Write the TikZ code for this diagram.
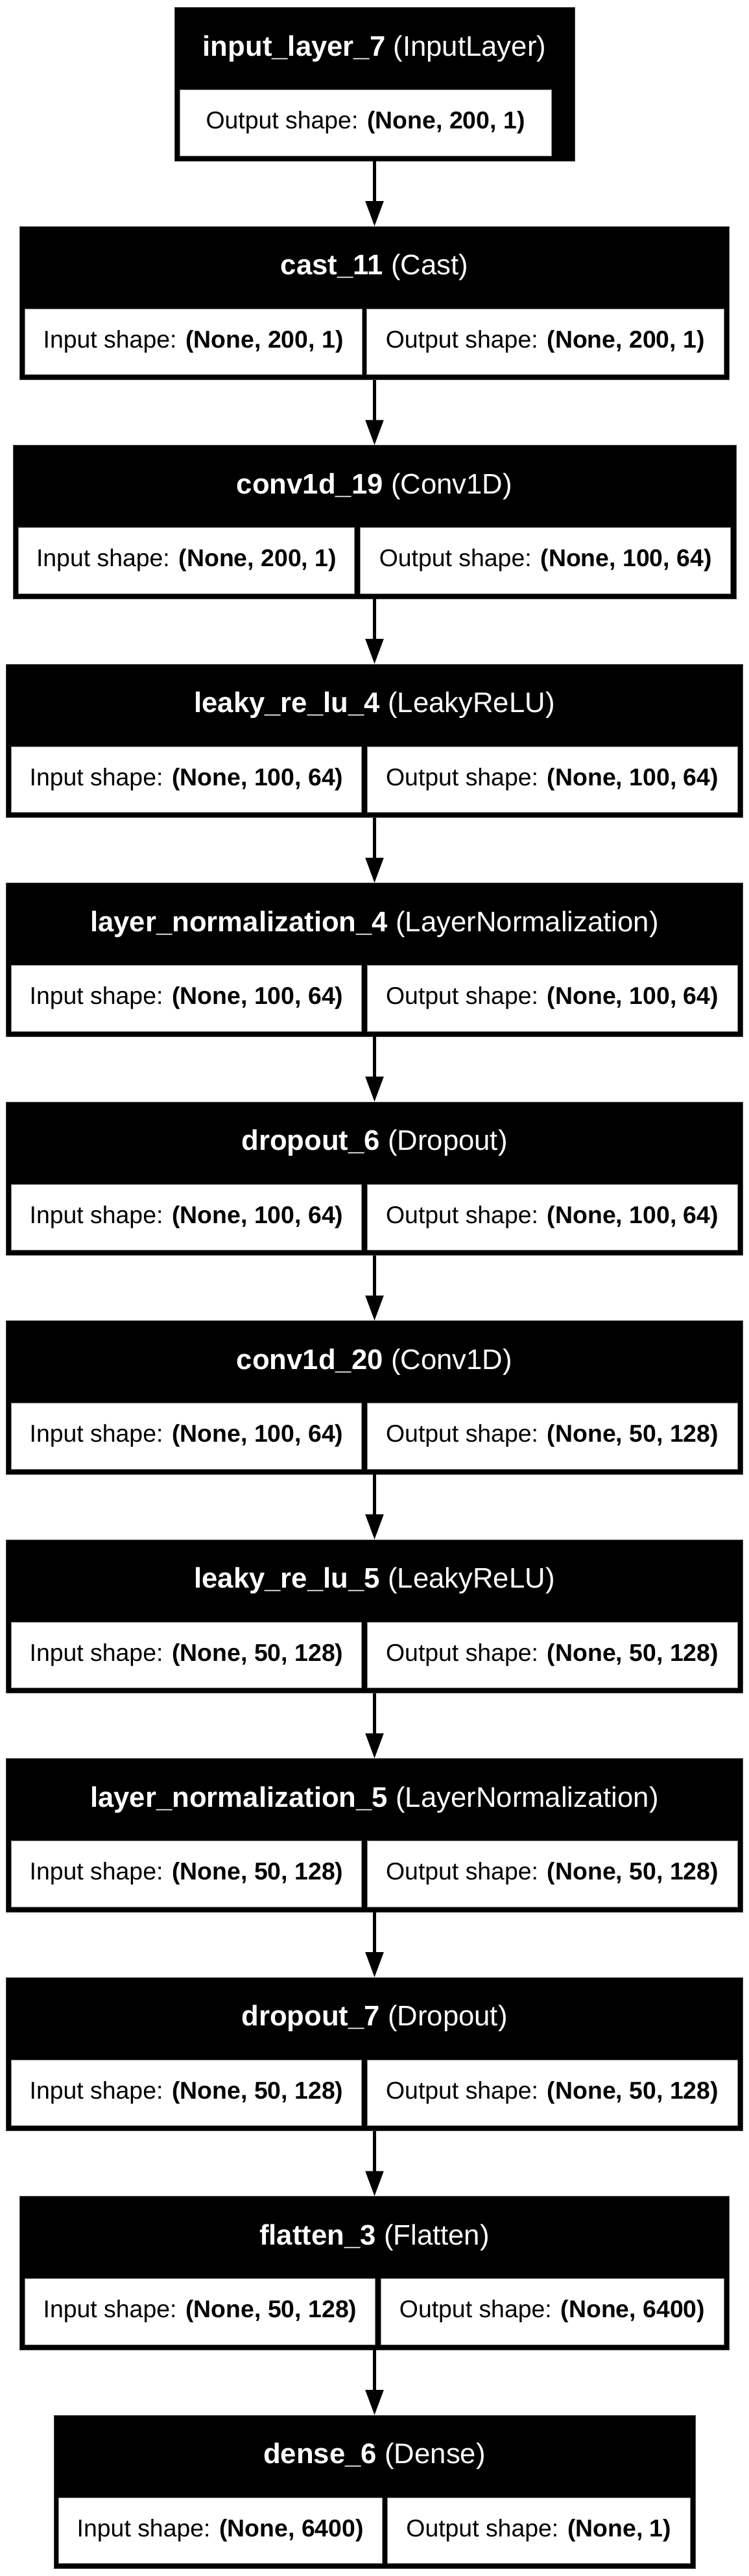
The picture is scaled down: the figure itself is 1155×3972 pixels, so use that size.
\documentclass[tikz,border=0pt]{standalone}
\usepackage{fontspec}
\setmainfont{Liberation Sans}
\usetikzlibrary{arrows.meta}
\tikzset{
  layer/.style={fill=black, draw=black!75, line width=1pt, inner sep=0pt, outer sep=0pt, minimum height=236.5pt},
  head/.style={text=white, inner sep=0pt, font=\fontsize{43.7}{50}\selectfont},
  cell/.style={fill=white, draw=black!45, line width=1pt, inner sep=0pt, outer sep=0pt, minimum height=101.5pt, font=\fontsize{37.4}{44}\selectfont},
  flow/.style={line width=5.5pt, -{Triangle[length=39pt,width=27pt]}},
}
\newcommand{\ish}[1]{Input shape: \textbf{#1}}
\newcommand{\osh}[1]{Output shape: \textbf{#1}}
\begin{document}
\begin{tikzpicture}[x=1pt,y=-1pt]
\fill[white] (0,0) rectangle (1155,3972);
\useasboundingbox (0,0) rectangle (1155,3972);

% 0 input
\node[layer, minimum width=617pt] (b0) at (577.5,129.75) {};
\node[head] (h0) at (577.5,75) {\textbf{input\_layer\_7} (InputLayer)};
\node[cell, minimum width=573pt] (o0) at (563.5,189.25) {\osh{(None, 200, 1)}};

% 1 cast
\node[layer, minimum width=1094pt] (b1) at (577.5,467.25) {};
\node[head] (h1) at (577.5,412.5) {\textbf{cast\_11} (Cast)};
\node[cell, minimum width=519.7pt] (i1) at (298.15,526.75) {\ish{(None, 200, 1)}};
\node[cell, minimum width=550.4pt] (o1) at (840.8,526.75) {\osh{(None, 200, 1)}};

% 2 conv1d_19
\node[layer, minimum width=1115pt] (b2) at (577.5,804.75) {};
\node[head] (h2) at (577.5,750) {\textbf{conv1d\_19} (Conv1D)};
\node[cell, minimum width=518.4pt] (i2) at (287.5,864.25) {\ish{(None, 200, 1)}};
\node[cell, minimum width=571pt] (o2) at (841.2,864.25) {\osh{(None, 100, 64)}};

% 3 leaky_re_lu_4
\node[layer, minimum width=1136pt] (b3) at (577.5,1142.25) {};
\node[head] (h3) at (577.5,1087.5) {\textbf{leaky\_re\_lu\_4} (LeakyReLU)};
\node[cell, minimum width=539.6pt] (i3) at (287.5,1201.75) {\ish{(None, 100, 64)}};
\node[cell, minimum width=571pt] (o3) at (851.5,1201.75) {\osh{(None, 100, 64)}};

% 4 layer_normalization_4
\node[layer, minimum width=1136pt] (b4) at (577.5,1479.75) {};
\node[head] (h4) at (577.5,1425) {\textbf{layer\_normalization\_4} (LayerNormalization)};
\node[cell, minimum width=539.6pt] (i4) at (287.5,1539.25) {\ish{(None, 100, 64)}};
\node[cell, minimum width=571pt] (o4) at (851.5,1539.25) {\osh{(None, 100, 64)}};

% 5 dropout_6
\node[layer, minimum width=1136pt] (b5) at (577.5,1817.25) {};
\node[head] (h5) at (577.5,1762.5) {\textbf{dropout\_6} (Dropout)};
\node[cell, minimum width=539.6pt] (i5) at (287.5,1876.75) {\ish{(None, 100, 64)}};
\node[cell, minimum width=571pt] (o5) at (851.5,1876.75) {\osh{(None, 100, 64)}};

% 6 conv1d_20
\node[layer, minimum width=1136pt] (b6) at (577.5,2154.75) {};
\node[head] (h6) at (577.5,2100) {\textbf{conv1d\_20} (Conv1D)};
\node[cell, minimum width=539.6pt] (i6) at (287.5,2214.25) {\ish{(None, 100, 64)}};
\node[cell, minimum width=571pt] (o6) at (851.5,2214.25) {\osh{(None, 50, 128)}};

% 7 leaky_re_lu_5
\node[layer, minimum width=1136pt] (b7) at (577.5,2492.25) {};
\node[head] (h7) at (577.5,2437.5) {\textbf{leaky\_re\_lu\_5} (LeakyReLU)};
\node[cell, minimum width=539.6pt] (i7) at (287.5,2551.75) {\ish{(None, 50, 128)}};
\node[cell, minimum width=571pt] (o7) at (851.5,2551.75) {\osh{(None, 50, 128)}};

% 8 layer_normalization_5
\node[layer, minimum width=1136pt] (b8) at (577.5,2829.75) {};
\node[head] (h8) at (577.5,2775) {\textbf{layer\_normalization\_5} (LayerNormalization)};
\node[cell, minimum width=539.6pt] (i8) at (287.5,2889.25) {\ish{(None, 50, 128)}};
\node[cell, minimum width=571pt] (o8) at (851.5,2889.25) {\osh{(None, 50, 128)}};

% 9 dropout_7
\node[layer, minimum width=1136pt] (b9) at (577.5,3167.25) {};
\node[head] (h9) at (577.5,3112.5) {\textbf{dropout\_7} (Dropout)};
\node[cell, minimum width=539.6pt] (i9) at (287.5,3226.75) {\ish{(None, 50, 128)}};
\node[cell, minimum width=571pt] (o9) at (851.5,3226.75) {\osh{(None, 50, 128)}};

% 10 flatten_3
\node[layer, minimum width=1093.6pt] (b10) at (577.5,3504.75) {};
\node[head] (h10) at (577.5,3450) {\textbf{flatten\_3} (Flatten)};
\node[cell, minimum width=540.1pt] (i10) at (308.55,3564.25) {\ish{(None, 50, 128)}};
\node[cell, minimum width=529pt] (o10) at (851.5,3564.25) {\osh{(None, 6400)}};

% 11 dense_6
\node[layer, minimum width=989pt] (b11) at (577.5,3842.25) {};
\node[head] (h11) at (577.5,3787.5) {\textbf{dense\_6} (Dense)};
\node[cell, minimum width=498.4pt] (i11) at (339.8,3901.75) {\ish{(None, 6400)}};
\node[cell, minimum width=467.6pt] (o11) at (830.8,3901.75) {\osh{(None, 1)}};

% connectors
\foreach \a/\b in {b0/b1,b1/b2,b2/b3,b3/b4,b4/b5,b5/b6,b6/b7,b7/b8,b8/b9,b9/b10,b10/b11}
  \draw[flow] (\a.south) -- (\b.north);
\end{tikzpicture}
\end{document}
